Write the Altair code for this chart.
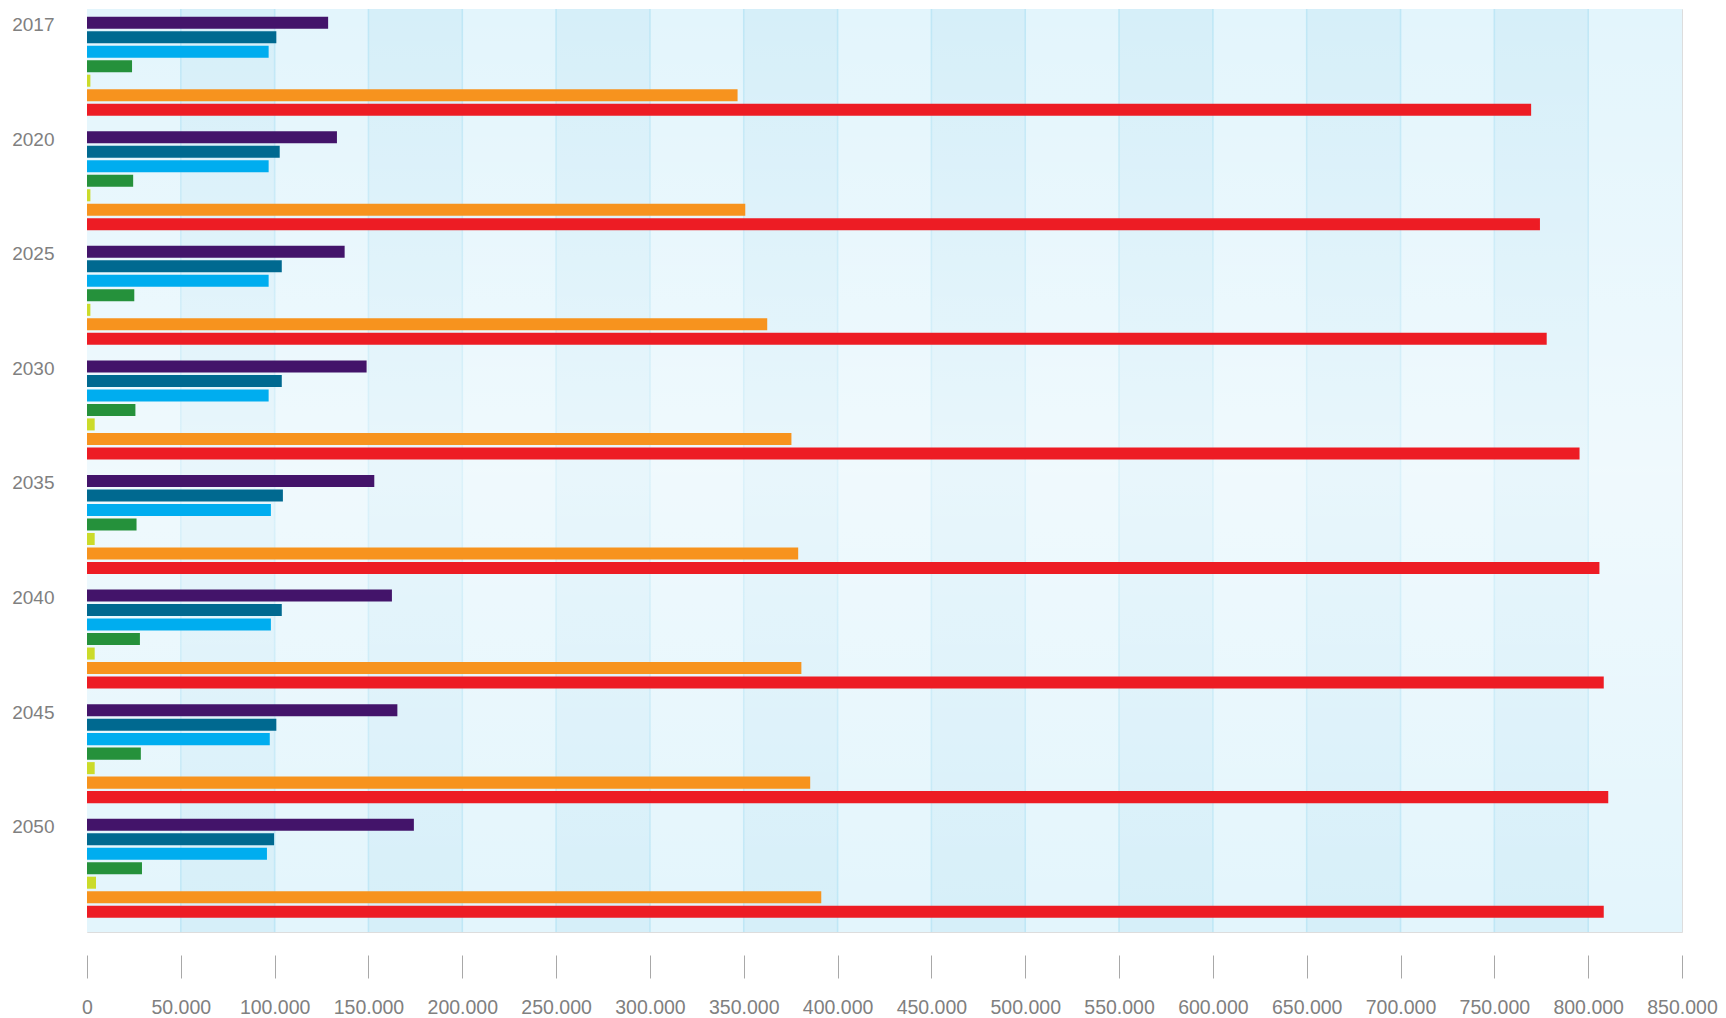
import altair as alt
import pandas as pd

years = ["2017", "2020", "2025", "2030", "2035", "2040", "2045", "2050"]
series = ["S1", "S2", "S3", "S4", "S5", "S6", "S7"]
colors = ["#43146a", "#006990", "#00adef", "#25913b", "#cbdb2a", "#f7931e", "#ed1c24"]

s1 = [128500, 133200, 137300, 149000, 153100, 162500, 165400, 174200]
s2 = [100900, 102700, 103800, 103800, 104400, 103800, 100900, 99700]
s3 = [96800, 96800, 96800, 96800, 98000, 98000, 97400, 95900]
s4 = [24000, 24600, 25200, 25800, 26400, 28200, 28700, 29300]
s5 = [1800, 1800, 1800, 4100, 4100, 4100, 4100, 4800]
s6 = [346700, 350800, 362500, 375400, 379000, 380700, 385400, 391300]
s7 = [769600, 774300, 777900, 795400, 806000, 808300, 810700, 808300]

tick_values = list(range(0, 850001, 50000))
stripe_starts = [50000, 150000, 250000, 350000, 450000, 550000, 650000, 750000]
stripe_ends = [100000, 200000, 300000, 400000, 500000, 600000, 700000, 800000]
grid_values = list(range(50000, 800001, 50000))

W, H = 1595, 923

rows = []
for name, vals in zip(series, [s1, s2, s3, s4, s5, s6, s7]):
    for y, v in zip(years, vals):
        rows.append({"year": y, "series": name, "value": v})
df = pd.DataFrame(rows)
stripes = pd.DataFrame({"start": stripe_starts, "end": stripe_ends})
grid = pd.DataFrame({"v": grid_values})

xscale = alt.Scale(domain=[0, 850000], nice=False, zero=True)

xaxis = alt.Axis(
    values=tick_values,
    labelExpr="replace(format(datum.value, ','), ',', '.')",
    grid=False, domain=False, ticks=True, tickSize=23, tickColor="#a8a8a8",
    tickWidth=1, offset=23, labelPadding=20, labelFontSize=19.5,
    labelColor="#808080", labelFont="Liberation Sans", title=None,
    labelOverlap=False, labelFlush=False,
)

base_bg = alt.Chart(pd.DataFrame({"a": [0]})).mark_rect(color="#e3f5fc").encode(
    x=alt.value(0), x2=alt.value(W), y=alt.value(0), y2=alt.value(H)
)

stripe_layer = alt.Chart(stripes).mark_rect(color="#d6eff9").encode(
    x=alt.X("start:Q", scale=xscale, axis=xaxis),
    x2="end:Q",
    y=alt.value(0), y2=alt.value(H),
)

grid_layer = alt.Chart(grid).mark_rule(color="#bfe7f6", strokeWidth=1.6).encode(
    x=alt.X("v:Q", scale=xscale, axis=xaxis)
)

overlay = alt.Chart(pd.DataFrame({"a": [0]})).mark_rect(
    fill=alt.LinearGradient(
        gradient="linear",
        stops=[
            alt.GradientStop(color="rgba(255,255,255,0)", offset=0),
            alt.GradientStop(color="rgba(255,255,255,0.45)", offset=0.5),
            alt.GradientStop(color="rgba(255,255,255,0)", offset=1),
        ],
        x1=0, x2=0, y1=0, y2=1,
    )
).encode(x=alt.value(0), x2=alt.value(W), y=alt.value(0), y2=alt.value(H))

bars = alt.Chart(df).mark_bar().encode(
    x=alt.X("value:Q", scale=xscale, axis=xaxis),
    y=alt.Y(
        "year:N", sort=years,
        scale=alt.Scale(paddingInner=0.136, paddingOuter=0.096, align=0.35),
        axis=alt.Axis(
            title=None, domain=False, ticks=False, tickSize=0, labelPadding=33,
            labelOffset=-41, labelFontSize=19, labelColor="#808080",
            labelFont="Liberation Sans", labelBaseline="middle",
        ),
    ),
    yOffset=alt.YOffset("series:N", sort=series,
                        scale=alt.Scale(paddingInner=0.17, paddingOuter=0)),
    color=alt.Color("series:N", scale=alt.Scale(domain=series, range=colors), legend=None),
)

chart = alt.layer(base_bg, stripe_layer, grid_layer, overlay, bars).properties(
    width=W, height=H,
    autosize=alt.AutoSizeParams(type="none"),
    padding={"left": 79, "top": 1, "right": 36, "bottom": 85},
).configure_view(stroke=None).configure(background="white")

chart.save("out.html", embed_options={"renderer": "svg", "actions": False})
